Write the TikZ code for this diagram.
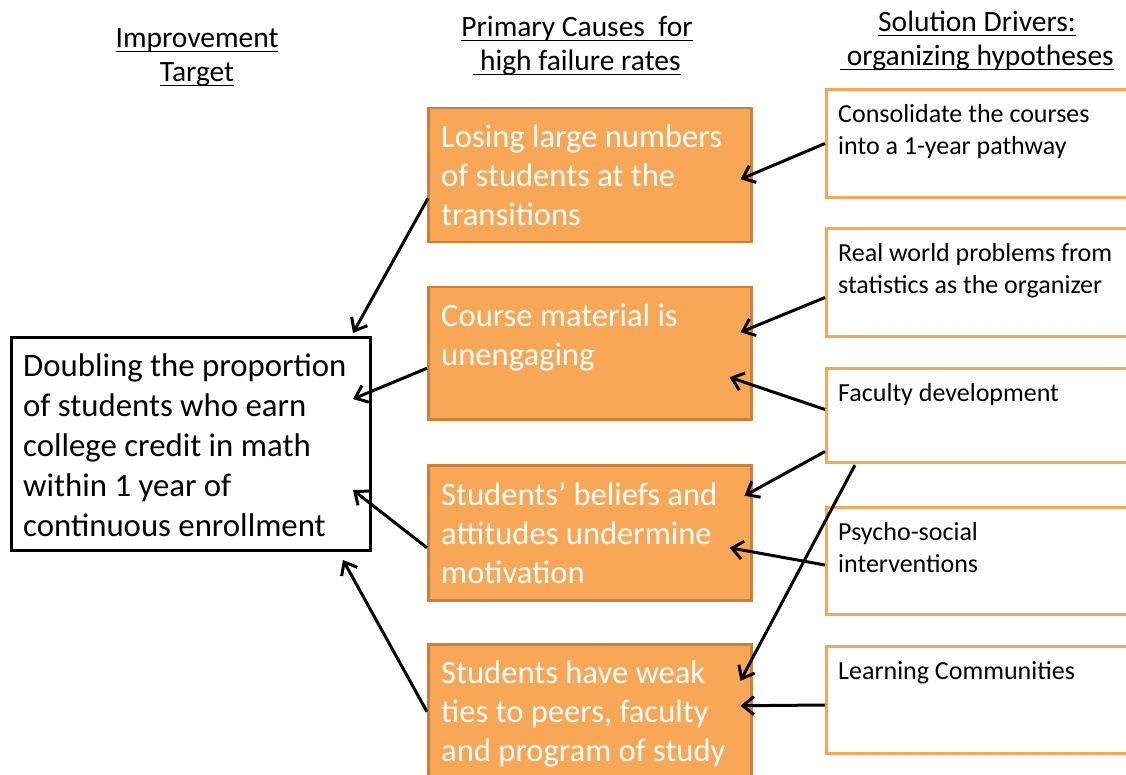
\documentclass[tikz,border=0pt]{standalone}
\usepackage{fontspec}
\setmainfont{Carlito}
\usetikzlibrary{arrows.meta}
\begin{document}
\begin{tikzpicture}[x=1pt,y=-1pt]
\newcommand{\xunit}{1}
\newcommand{\yunit}{1}
\newcommand{\headline}[1]{\underline{\smash{#1}\rule[-2pt]{0pt}{2pt}}}
\definecolor{causefill}{RGB}{248,167,87}
\definecolor{causeedge}{RGB}{203,128,62}
\definecolor{driveredge}{RGB}{249,166,90}
\tikzstyle{header}=[align=center,inner sep=0pt,font=\fontsize{29.5}{34}\selectfont]
\tikzstyle{box}=[anchor=north west,inner sep=0pt]
\tikzstyle{target}=[box,draw,line width=3pt,minimum width=359pt,minimum height=213pt]
\tikzstyle{cause}=[box,draw=causeedge,fill=causefill,line width=2.5pt,minimum width=323pt]
\tikzstyle{driver}=[box,draw=driveredge,line width=3pt,fill=white,minimum width=330pt]
\tikzstyle{boxtext}=[anchor=north west,align=left,inner sep=0pt]
\tikzstyle{targettext}=[boxtext,inner xsep=13pt,inner ysep=18pt,font=\fontsize{32.8}{40}\selectfont]
\tikzstyle{causetext}=[boxtext,text=white,inner xsep=14pt,inner ysep=18pt,font=\fontsize{32.6}{39}\selectfont]
\tikzstyle{drivertext}=[boxtext,inner xsep=13pt,inner ysep=16pt,font=\fontsize{26}{32}\selectfont]
\tikzstyle{link}=[-{Straight Barb[length=11pt,width=18pt,line width=3pt]},line width=3pt]
\useasboundingbox (0,0) rectangle (1126,775);
% column headers
\node[header] (htarget) at (\xunit*197,\yunit*67) {\headline{Improvement}\\\headline{Target}};
\node[header] (hcause) at (\xunit*577,\yunit*56) {\headline{Primary Causes\ \ for}\\\headline{\ high failure rates}};
\node[header] (hdriver) at (\xunit*977,\yunit*51) {\headline{Solution Drivers:}\\\headline{\ organizing hypotheses}};
% improvement target
\node[target,label={[targettext]north west:{Doubling the proportion\\of students who earn\\college credit in math\\within 1 year of\\continuous enrollment}}] (target) at (\xunit*10,\yunit*336) {};
% primary causes
\node[cause,minimum height=134pt,label={[causetext]north west:{Losing large numbers\\of students at the\\transitions}}] (c1) at (\xunit*427,\yunit*107) {};
\node[cause,minimum height=132pt,label={[causetext]north west:{Course material is\\unengaging}}] (c2) at (\xunit*427,\yunit*286) {};
\node[cause,minimum height=135pt,label={[causetext]north west:{Students’ beliefs and\\attitudes undermine\\motivation}}] (c3) at (\xunit*427,\yunit*464) {};
\node[cause,minimum height=157pt,label={[causetext]north west:{Students have weak\\ties to peers, faculty\\and program of study}}] (c4) at (\xunit*427,\yunit*643) {};
% solution drivers
\node[driver,minimum height=108pt,label={[drivertext]north west:{Consolidate the courses\\into a 1-year pathway}}] (s1) at (\xunit*825,\yunit*88) {};
\node[driver,minimum height=108pt,label={[drivertext]north west:{Real world problems from\\statistics as the organizer}}] (s2) at (\xunit*825,\yunit*227) {};
\node[driver,minimum height=94pt,label={[drivertext]north west:{Faculty development}}] (s3) at (\xunit*825,\yunit*367) {};
\node[driver,minimum height=107pt,label={[drivertext]north west:{Psycho-social\\interventions}}] (s4) at (\xunit*825,\yunit*506) {};
\node[driver,minimum height=107pt,label={[drivertext]north west:{Learning Communities}}] (s5) at (\xunit*825,\yunit*645) {};
% drivers -> causes
\draw[link] (s1.west) -- ([shift={(-12,4)}]c1.east);
\draw[link] ([shift={(0,15)}]s2.west) -- ([shift={(-12,-21)}]c2.east);
\draw[link] ([shift={(0,-6)}]s3.west) -- ([shift={(-23,24)}]c2.east);
\draw[link] ([shift={(0,36)}]s3.west) -- ([shift={(-8,-37)}]c3.east);
\draw[link] ([shift={(30,1)}]s3.south west) -- ([shift={(-12,-42)}]c4.east);
\draw[link] ([shift={(0,4)}]s4.west) -- ([shift={(-23,15)}]c3.east);
\draw[link] ([shift={(0,5)}]s5.west) -- ([shift={(-12,-17)}]c4.east);
% causes -> target
\draw[link] ([shift={(1,23)}]c1.west) -- ([shift={(-19,-3)}]target.north east);
\draw[link] ([shift={(0,15)}]c2.west) -- ([shift={(-19,-45)}]target.east);
\draw[link] ([shift={(0,15)}]c3.west) -- ([shift={(-19,46)}]target.east);
\draw[link] ([shift={(0,-11)}]c4.west) -- ([shift={(-29,8)}]target.south east);
\end{tikzpicture}
\end{document}
